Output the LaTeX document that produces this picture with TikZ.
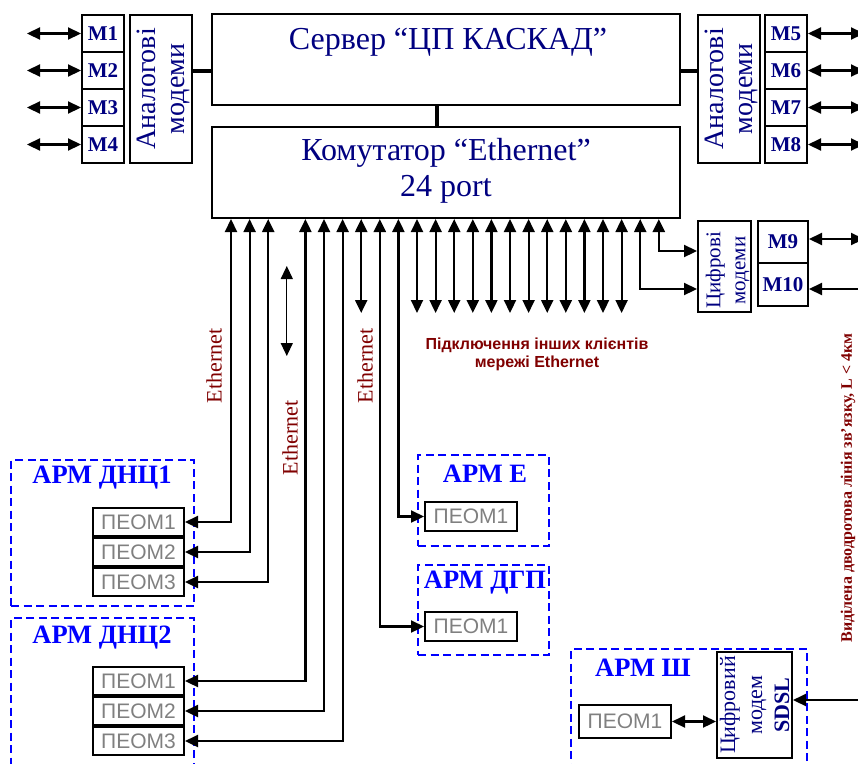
\documentclass[tikz,border=0pt]{standalone}
\usepackage{fontspec}
\setmainfont{Liberation Serif}
\newfontfamily\arialf{Liberation Sans}
\usetikzlibrary{arrows.meta,positioning,calc}
\definecolor{navy}{RGB}{0,0,128}
\definecolor{dred}{RGB}{128,0,0}
\definecolor{pcgray}{RGB}{128,128,128}
\newcommand\fsz[2][]{\fontsize{#2}{#2}\selectfont}
\tikzset{
  >={Triangle[length=13pt,width=12pt]},
  box/.style={draw,line width=2pt,inner sep=0pt,align=center},
  mbox/.style={box,font=\bfseries\fsz{21},text=navy,
    minimum width=42pt,minimum height=37pt},
  modbox/.style={box,minimum width=62pt,minimum height=148pt},
  modtxt/.style={rotate=90,align=center,text=navy,inner sep=0pt},
  pcbox/.style={box,font=\arialf\fsz{21},text=pcgray,
    minimum width=91pt,minimum height=28pt},
  armbox/.style={draw=blue,line width=2pt,dash pattern=on 8pt off 4.5pt,
    inner sep=0pt},
  armlbl/.style={font=\bfseries\fsz{26.5},text=blue},
  link/.style={<->,line width=2.2pt},
  tlink/.style={line width=2.2pt},
  thk/.style={line width=4pt},
  ethlbl/.style={font=\fsz{22},text=dred,rotate=90},
}

\begin{document}
\begin{tikzpicture}[x=1pt,y=-1pt]
  \useasboundingbox (0,0) rectangle (858,763);

  % server and switch
  \node[box,minimum width=468pt,minimum height=91pt] (srv) at (446,59.5) {};
  \node[font=\fsz{32},text=navy] (srvtxt) at (448,42) {Сервер “ЦП КАСКАД”};
  \node[box,minimum width=468pt,minimum height=91pt] (sw) at (446,172.5) {};
  \node[font=\fontsize{32}{36}\selectfont,text=navy,align=center] (swtxt)
    at (446,171) {Комутатор “Ethernet”\\24 port};
  \draw[thk] ([xshift=-9pt]srv.south) -- ([xshift=-9pt]sw.north);

  % analog modems
  \node[modbox] (aml) at (161,89) {};
  \node[modtxt,font=\fontsize{28}{29}\selectfont] (amltxt) at ([xshift=2pt]aml)
    {Аналогові\\модеми};
  \node[modbox] (amr) at (729,89) {};
  \node[modtxt,font=\fontsize{28}{29}\selectfont] (amrtxt) at ([xshift=2pt]amr)
    {Аналогові\\модеми};
  \foreach \i/\y in {1/33.5,2/70.5,3/107.5,4/144.5} {
    \node[mbox] (m\i) at (103,\y) {M\i};
    \coordinate (l\i) at (27,\y);
    \draw[link] (l\i) -- (m\i);
  }
  \foreach \i/\y in {5/33.5,6/70.5,7/107.5,8/144.5} {
    \node[mbox] (m\i) at (786,\y) {M\i};
    \coordinate (r\i) at (864,\y);
    \draw[link] (m\i) -- (r\i);
  }
  \draw[thk] (m2 -| aml.east) -- (m2 -| srv.west);
  \draw[thk] (m6 -| srv.east) -- (m6 -| amr.west);

  % digital modems
  \node[box,minimum width=53pt,minimum height=91pt] (dm) at (724.5,266.5) {};
  \node[modtxt,font=\fontsize{21}{25}\selectfont] (dmtxt) at ([xshift=3pt,yshift=-4pt]dm)
    {Цифрові\\модеми};
  \node[mbox,minimum width=50pt,minimum height=42pt] (m9) at (783,242) {M9};
  \node[mbox,minimum width=50pt,minimum height=43pt] (m10) at (783,284.5) {M10};
  \coordinate (r9) at (864,239);
  \coordinate (r10) at (864,289);
  \draw[link] ([yshift=3pt]m9.east) -- (r9);
  \draw[tlink,->] (r10) -- ([yshift=-4.5pt]m10.east);

  % switch ports
  \foreach \k in {0,...,23}
    \coordinate (p\k) at ([xshift={20+18.6*\k}]sw.south west);
  \foreach \k in {7,10,11,...,21} {
    \coordinate (q\k) at ([yshift=-94pt]p\k);
    \draw[link] (p\k) -- (q\k);
  }
  \coordinate (fa) at ([yshift=-47pt]p3);
  \coordinate (fb) at ([yshift=-137pt]p3);
  \draw[<->,line width=1.3pt] (fa) -- (fb);
  \draw[link] (p22) |- ([yshift=-22.5pt]dm.west);
  \draw[link] (p23) |- ([yshift=15.5pt]dm.west);

  \node[ethlbl] (eth1) at (214,366) {Ethernet};
  \node[ethlbl] (eth2) at (290,438) {Ethernet};
  \node[ethlbl] (eth3) at (365,366) {Ethernet};
  \node[font=\arialf\bfseries\fontsize{16}{18}\selectfont,text=dred,align=center]
    (clients) at (537,354) {Підключення інших клієнтів\\мережі Ethernet};

  % workstations
  \node[armbox,minimum width=183pt,minimum height=146pt] (dnc1) at (102.5,533) {};
  \node[armlbl] (dnc1lbl) at (102,478) {АРМ ДНЦ1};
  \node[armbox,minimum width=183pt,minimum height=157pt] (dnc2) at (102.5,696.5) {};
  \node[armlbl] (dnc2lbl) at (102,638) {АРМ ДНЦ2};
  \foreach \i/\y in {1/522,2/552,3/582} {
    \node[pcbox] (a\i) at (138.5,\y) {ПЕОМ\i};
  }
  \foreach \i/\y in {1/681,2/711,3/741} {
    \node[pcbox] (b\i) at (138.5,\y) {ПЕОМ\i};
  }
  \draw[link] (p0) |- (a1.east);
  \draw[link] (p1) |- (a2.east);
  \draw[link] (p2) |- (a3.east);
  \draw[link] (p4) |- (b1.east);
  \draw[link] (p5) |- (b2.east);
  \draw[link] (p6) |- (b3.east);

  \node[armbox,minimum width=131pt,minimum height=91pt] (arme) at (483.5,500.5) {};
  \node[armlbl] (armelbl) at (485,474) {АРМ Е};
  \node[pcbox,minimum width=92pt,minimum height=29pt] (e1) at (471,516.5) {ПЕОМ1};
  \node[armbox,minimum width=131pt,minimum height=90pt] (dgp) at (483.5,610) {};
  \node[armlbl] (dgplbl) at (485,583) {АРМ ДГП};
  \node[pcbox,minimum width=92pt,minimum height=29pt] (g1) at (471,626.5) {ПЕОМ1};
  \draw[link] (p9) |- (e1.west);
  \draw[link] (p8) |- (g1.west);

  \node[armbox,minimum width=236pt,minimum height=126pt] (armsh) at (689,712) {};
  \node[armlbl] (armshlbl) at (643,668) {АРМ Ш};
  \node[pcbox,minimum width=92pt,minimum height=33pt] (s1) at (625,721.5) {ПЕОМ1};
  \node[box,minimum width=75pt,minimum height=106pt] (sd) at (754.5,705) {};
  \node[modtxt,font=\fontsize{22}{27}\selectfont] (sdtxt) at (sd)
    {Цифровий\\модем\\\bfseries SDSL};
  \draw[link] (s1.east) -- (s1.east -| sd.west);
  \coordinate (rs) at (864,700);
  \draw[tlink,->] (rs) -- ([yshift=5pt]sd.east);

  \node[rotate=90,font=\bfseries\fsz{16},text=dred] (line) at (848,488)
    {Виділена дводротова лінія зв’язку, L < 4км};
\end{tikzpicture}
\end{document}
